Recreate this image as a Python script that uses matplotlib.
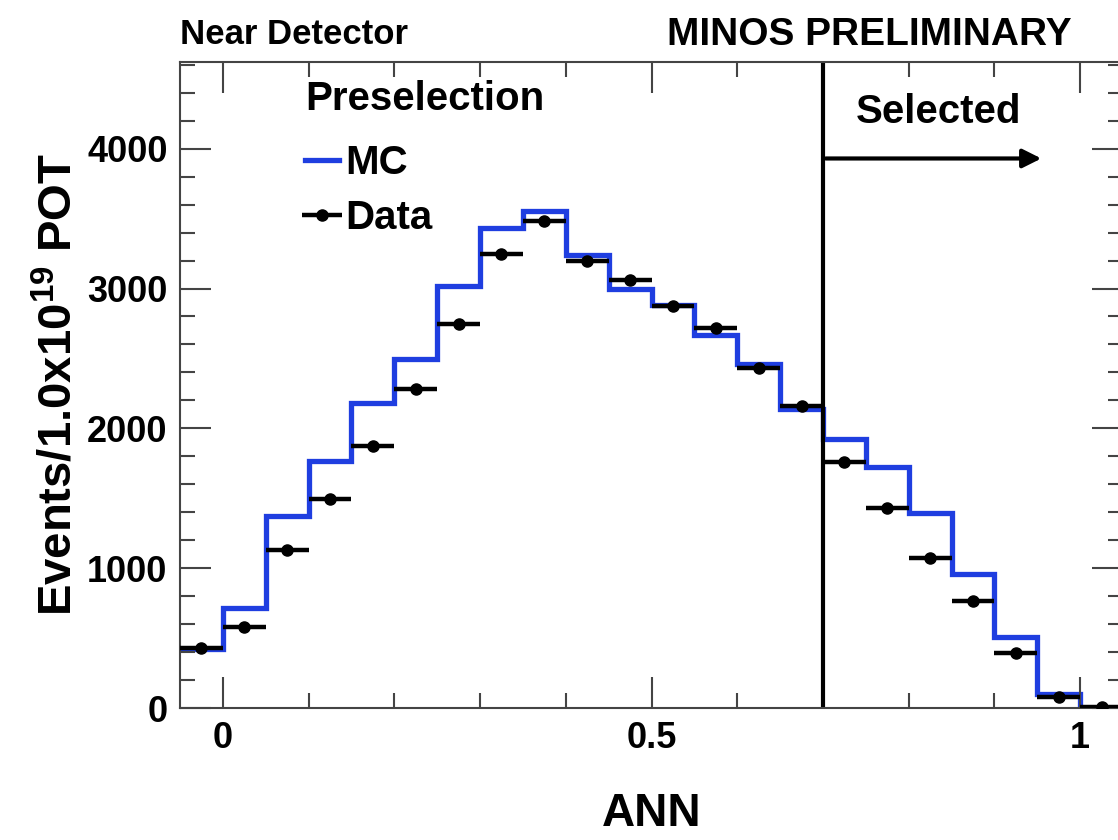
import matplotlib
matplotlib.use("Agg")
import matplotlib.pyplot as plt
import numpy as np

# ANN bins, width 0.05
bin_edges = np.arange(-0.05, 1.0501, 0.05)
mc = [420, 712, 1375, 1768, 2178, 2499, 3018, 3435, 3552, 3243, 2995,
      2885, 2665, 2460, 2140, 1925, 1722, 1398, 960, 508, 100, 0]
data = [430, 578, 1129, 1495, 1875, 2280, 2747, 3247, 3484, 3198, 3058,
        2875, 2715, 2430, 2157, 1762, 1430, 1070, 762, 390, 80, 8]
centers = 0.5 * (bin_edges[:-1] + bin_edges[1:])
cut = 0.7

plt.rcParams['font.family'] = ['Liberation Sans', 'DejaVu Sans']
plt.rcParams['font.weight'] = 'bold'
plt.rcParams['mathtext.fontset'] = 'custom'
plt.rcParams['mathtext.rm'] = 'Liberation Sans:bold'
plt.rcParams['mathtext.it'] = 'Liberation Sans:bold'
plt.rcParams['mathtext.bf'] = 'Liberation Sans:bold'

fig = plt.figure(figsize=(11.18, 8.4), dpi=100)
ax = fig.add_axes([180 / 1118, 132 / 840, 943 / 1118, 646 / 840])

blue = '#1f3ee0'
mc_line = ax.stairs(mc, bin_edges, color=blue, lw=3.8, baseline=None)
dat = ax.errorbar(centers, data, xerr=0.025, fmt='o', color='k', ms=8,
                  elinewidth=3.2, capsize=0, zorder=3)

ymax = 4620
ax.plot([cut, cut], [0, ymax], color='k', lw=3)
ax.annotate('', xy=(0.958, 3930), xytext=(cut, 3930),
            arrowprops=dict(arrowstyle='-|>', lw=3, color='k', mutation_scale=28))
ax.text(0.835, 4262, 'Selected', ha='center', va='center', fontsize=29, fontweight='bold')

ax.set_xlim(-0.05, 1.05)
ax.set_ylim(0, ymax)
ax.set_xticks([0, 0.5, 1])
ax.set_xticklabels(['0', '0.5', '1'])
ax.set_xticks(np.arange(0, 1.05, 0.1), minor=True)
ax.set_yticks([0, 1000, 2000, 3000, 4000])
ax.set_yticks(np.arange(0, 4601, 200), minor=True)
ax.tick_params(which='both', direction='in', top=True, right=True, color='#444')
ax.tick_params(which='major', length=22, width=1.5, labelsize=26, pad=9)
ax.tick_params(which='minor', length=11, width=1.5)
for s in ax.spines.values():
    s.set_color('#444')
    s.set_linewidth(1.5)

ax.set_xlabel('ANN', fontsize=33, fontweight='bold', labelpad=26)
ax.set_ylabel('Events/1.0x10$^{19}$ POT', fontsize=34, fontweight='bold', labelpad=4)

leg = ax.legend([mc_line, dat], ['MC', 'Data'], title='Preselection',
                loc='upper left', bbox_to_anchor=(0.1326, 0.972), frameon=False,
                fontsize=29, title_fontproperties={'size': 29, 'weight': 'bold'},
                handlelength=0.85, handletextpad=0.15, labelspacing=0.42,
                borderpad=0, borderaxespad=0, alignment='left')
leg._legend_box.sep = 19

fig.text(180 / 1118, 1 - 35 / 840, 'Near Detector', ha='left', va='center',
         fontsize=25, fontweight='bold')
fig.text(1072 / 1118, 1 - 35 / 840, 'MINOS PRELIMINARY', ha='right', va='center',
         fontsize=28, fontweight='bold')

fig.savefig('out.png', dpi=100)
